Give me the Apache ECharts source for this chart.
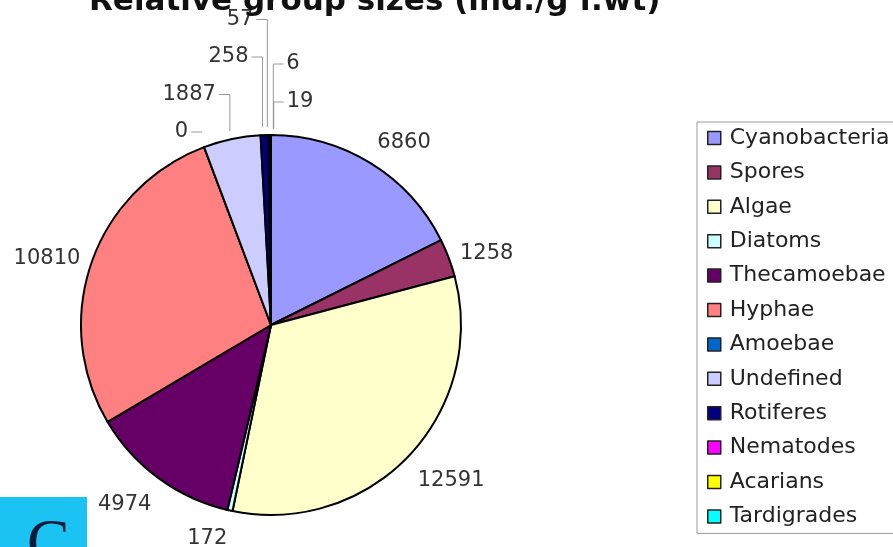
<!DOCTYPE html>
<html>
<head>
<meta charset="utf-8">
<script src="https://cdn.jsdelivr.net/npm/echarts@6/dist/echarts.min.js"></script>
<style>
  html, body { margin: 0; padding: 0; background: #fff; }
  #chart { width: 893px; height: 547px; }
</style>
</head>
<body>
<div id="chart"></div>
<script>
// Group sizes (individuals per gram fresh weight)
const groups = ['Cyanobacteria', 'Spores', 'Algae', 'Diatoms', 'Thecamoebae', 'Hyphae',
                'Amoebae', 'Undefined', 'Rotiferes', 'Nematodes', 'Acarians', 'Tardigrades'];
const counts = [6860, 1258, 12591, 172, 4974, 10810, 0, 1887, 258, 57, 6, 19];
const palette = ['#9999FF', '#993366', '#FFFFCC', '#CCFFFF', '#660066', '#FF8080',
                 '#0066CC', '#CCCCFF', '#000080', '#FF00FF', '#FFFF00', '#00FFFF'];

const CX = 271, CY = 325, R = 190;
const total = counts.reduce((a, b) => a + b, 0);

// middle angle of a slice, clockwise from 12 o'clock (radians)
function midAngle(i) {
  let s = 0;
  for (let k = 0; k < i; k++) s += counts[k];
  return (s + counts[i] / 2) / total * 2 * Math.PI;
}

// slices crowded near 12 o'clock get stacked labels with elbow leader lines
const crowded = counts.map((v, i) => midAngle(i) > Math.PI * 11 / 6);
const crowdedIdx = counts.map((v, i) => i).filter(i => crowded[i]);
const rightSide = crowdedIdx.slice(-2);          // the last two go to the right
const leftSide = crowdedIdx.slice(0, -2);

function placeLabel(params) {
  const i = params.dataIndex;
  const a = midAngle(i);
  const sx = Math.sin(a), sy = -Math.cos(a);
  const ex = CX + R * sx, ey = CY + R * sy;
  if (leftSide.includes(i)) {
    const k = leftSide.indexOf(i);
    const y = CY - R - 3 - k * 37.5;
    const bx = ex - 2;
    const tx = bx - 14;
    return {
      x: tx, y: y, align: 'right', verticalAlign: 'middle',
      labelLinePoints: [[bx, k === 0 ? y : ey - 8], [bx, y], [tx + 3, y]]
    };
  }
  if (rightSide.includes(i)) {
    const k = rightSide.length - 1 - rightSide.indexOf(i);
    const y = CY - R - 33 - k * 38;
    const bx = ex + 3;
    const tx = bx + 13;
    return {
      x: tx, y: y, align: 'left', verticalAlign: 'middle',
      labelLinePoints: [[bx, ey - 6], [bx, y], [tx - 3, y]]
    };
  }
  const px = CX + (R + 12) * sx, py = CY + (R + 12) * sy;
  const below = sy > 0.5;
  return {
    x: px, y: py + (below ? 6 : 0),
    align: sx < -0.15 ? 'right' : (sx > 0.15 ? 'left' : 'center'),
    verticalAlign: sy < -0.5 ? 'bottom' : (below ? 'top' : 'middle'),
    labelLinePoints: [[px, py], [px, py], [px, py]]
  };
}

const chart = echarts.init(document.getElementById('chart'), null, { renderer: 'canvas' });

chart.setOption({
  backgroundColor: '#ffffff',
  animation: false,
  color: palette,
  title: {
    text: 'Relative group sizes (ind./g f.wt)',
    left: 84,
    top: -19,
    textStyle: { fontFamily: 'DejaVu Sans', fontWeight: 'bold', fontSize: 31, color: '#111' }
  },
  legend: {
    orient: 'vertical',
    left: 697,
    top: 122,
    padding: [5, 60, 6, 10],
    backgroundColor: '#fff',
    borderColor: '#9a9a9a',
    borderWidth: 1,
    borderRadius: 0,
    icon: 'rect',
    itemWidth: 13,
    itemHeight: 13,
    itemGap: 12.4,
    itemStyle: { borderColor: '#222', borderWidth: 1.5 },
    textStyle: { fontFamily: 'DejaVu Sans', fontSize: 22, lineHeight: 22, color: '#222', padding: [0, 0, 0, 4] },
    data: groups
  },
  graphic: [
    { type: 'rect', left: 0, top: 497, shape: { width: 87, height: 60 }, style: { fill: '#1BC3F3' } },
    { type: 'text', left: 27, top: 514,
      style: { text: 'C', font: '64px "Liberation Serif"', fill: '#0d1a3a' } }
  ],
  series: [{
    type: 'pie',
    center: [CX, CY],
    radius: R,
    startAngle: 90,
    clockwise: true,
    avoidLabelOverlap: false,
    itemStyle: { borderColor: '#000', borderWidth: 2 },
    label: {
      show: true,
      formatter: '{c}',
      fontFamily: 'DejaVu Sans',
      fontSize: 21,
      color: '#333'
    },
    labelLine: { show: true, lineStyle: { color: '#999', width: 1 } },
    labelLayout: placeLabel,
    emphasis: { disabled: true },
    data: groups.map((g, i) => ({ name: g, value: counts[i] }))
  }]
});
</script>
</body>
</html>
